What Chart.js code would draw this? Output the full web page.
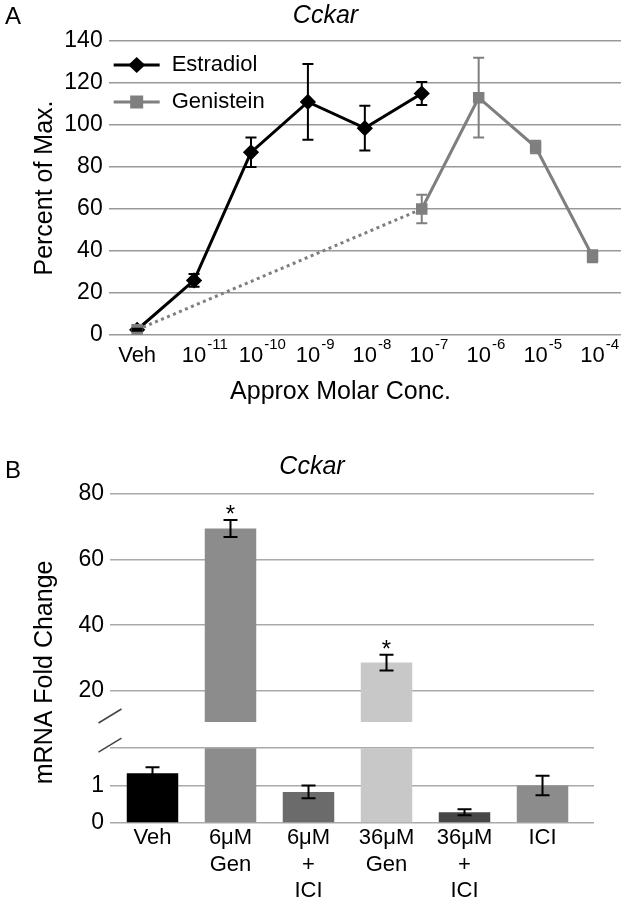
<!DOCTYPE html>
<html><head><meta charset="utf-8">
<script src="https://cdn.jsdelivr.net/npm/chart.js@4/dist/chart.umd.min.js"></script>
<style>
html,body{margin:0;padding:0;background:#fff;overflow:hidden;}
#wrap{position:relative;width:625px;height:901px;overflow:hidden;}
.box{position:absolute;left:0;width:625px;}
.lab{position:absolute;font-family:"Liberation Sans",Arial,sans-serif;font-size:24px;line-height:1;color:#000;}
</style></head><body>
<div id="wrap">
<div class="box" style="top:0;height:425px"><canvas id="chartA"></canvas></div>
<div class="box" style="top:425px;height:490px"><canvas id="chartB"></canvas></div>
<div class="lab" style="left:5px;top:4px">A</div>
<div class="lab" style="left:5px;top:458px">B</div>
</div>
<script>
// ---------- Panel A data ----------
const concBase = ['Veh','10','10','10','10','10','10','10','10'];
const concExp  = ['', '-11', '-10', '-9', '-8', '-7', '-6', '-5', '-4'];
const seriesNames = ['Estradiol','Genistein'];
const estradiolMean = [2.5, 26, 87, 111, 98.5, 115, null, null, null];
const estradiolErr  = [0.5, 3, 7, 18, 10.7, 5.5, null, null, null];
const genisteinMean = [2.5, null, null, null, null, 60, 113, 89.5, 37.5];
const genisteinErr  = [0, null, null, null, null, 6.8, 19, 3, 2.8];
const yTicksA = [0, 20, 40, 60, 80, 100, 120, 140];

// ---------- Panel B data ----------
const treatLabels = [['Veh'], ['6μM','Gen'], ['6μM','+','ICI'], ['36μM','Gen'], ['36μM','+','ICI'], ['ICI']];
const foldMean = [1.33, 69.5, 0.83, 28.6, 0.29, 1.0];
const foldErr  = [0.16, 2.6, 0.17, 2.4, 0.08, 0.26];
const sigMarks = ['', '*', '', '*', '', ''];
const lowTickLabels = [0, 1];
const upperTickLabels = [20, 40, 60, 80];
const barColors = ['#000000', '#8c8c8c', '#6b6b6b', '#c8c8c8', '#474747', '#8c8c8c'];

// axis break settings (panel B)
const lowBreak = 2;
const lowAxisMax = 2.7;
const highAxisMin = 10.5;
const highAxisMax = 80;

const FONT = '"Liberation Sans", Arial, sans-serif';
Chart.defaults.font.family = FONT;
Chart.defaults.color = '#000';

const errMapA = [estradiolErr, genisteinErr];

const errorBarsA = {
  id: 'errorBarsA',
  afterDatasetsDraw(chart) {
    const ctx = chart.ctx, ys = chart.scales.y;
    chart.data.datasets.forEach((ds, di) => {
      const meta = chart.getDatasetMeta(di);
      errMapA[di].forEach((e, i) => {
        const v = ds.data[i];
        if (v == null || !e) return;
        const x = meta.data[i].x;
        const yt = ys.getPixelForValue(v + e), yb = ys.getPixelForValue(v - e);
        ctx.save();
        ctx.strokeStyle = ds.borderColor; ctx.lineWidth = 2;
        ctx.beginPath();
        ctx.moveTo(x, yt); ctx.lineTo(x, yb);
        ctx.moveTo(x - 5.5, yt); ctx.lineTo(x + 5.5, yt);
        ctx.moveTo(x - 5.5, yb); ctx.lineTo(x + 5.5, yb);
        ctx.stroke(); ctx.restore();
      });
    });
  }
};

// x tick labels with superscript exponents
const expTicks = {
  id: 'expTicks',
  afterDraw(chart) {
    const {ctx, chartArea} = chart, xs = chart.scales.x;
    ctx.save(); ctx.fillStyle = '#000'; ctx.textBaseline = 'middle';
    concBase.forEach((b, i) => {
      const x = xs.getPixelForValue(i);
      ctx.font = '22px ' + FONT; ctx.textAlign = 'center';
      ctx.fillText(b, x, chartArea.bottom + 21);
      if (concExp[i]) {
        const w = ctx.measureText(b).width;
        ctx.font = '15px ' + FONT; ctx.textAlign = 'left';
        ctx.fillText(concExp[i], x + w / 2 + 1, chartArea.bottom + 10);
      }
    });
    ctx.restore();
  }
};

const inlineLegend = {
  id: 'inlineLegend',
  afterDraw(chart) {
    const {ctx, chartArea} = chart;
    const styles = ['diamond', 'square'];
    ctx.save();
    ctx.font = '22px ' + FONT;
    ctx.textBaseline = 'middle';
    chart.data.datasets.forEach((ds, i) => {
      const y = chartArea.top + 24 + i * 37;
      const x0 = chartArea.left + 5;
      ctx.strokeStyle = ds.borderColor; ctx.fillStyle = ds.borderColor; ctx.lineWidth = 3;
      ctx.beginPath(); ctx.moveTo(x0, y); ctx.lineTo(x0 + 46, y); ctx.stroke();
      const cx = x0 + 23;
      if (styles[i] === 'diamond') {
        ctx.beginPath(); ctx.moveTo(cx, y - 8); ctx.lineTo(cx + 8.5, y); ctx.lineTo(cx, y + 8); ctx.lineTo(cx - 8.5, y); ctx.closePath(); ctx.fill();
      } else {
        ctx.fillRect(cx - 6.5, y - 6.5, 13, 13);
      }
      ctx.fillStyle = '#000';
      ctx.fillText(ds.label, x0 + 58, y);
    });
    ctx.restore();
  }
};

new Chart(document.getElementById('chartA'), {
  type: 'line',
  data: {
    labels: concBase.map((b, i) => b + concExp[i]),
    datasets: [
      {label: seriesNames[0], data: estradiolMean, borderColor: '#000', backgroundColor: '#000',
       borderWidth: 3, pointStyle: 'rectRot', pointRadius: 6, pointHoverRadius: 6, order: 1},
      {label: seriesNames[1], data: genisteinMean, borderColor: '#7f7f7f', backgroundColor: '#7f7f7f',
       borderWidth: 3, pointStyle: 'rect', pointRadius: 6, pointHoverRadius: 6, spanGaps: true, order: 0,
       segment: {borderDash: c => (c.p0.skip || c.p1.skip) ? [3, 3.5] : undefined}}
    ]
  },
  options: {
    responsive: true, maintainAspectRatio: false, animation: false, devicePixelRatio: 1,
    layout: {autoPadding: false, padding: {left: 30, right: 4, top: 0, bottom: 0}},
    plugins: {
      legend: {display: false}, tooltip: {enabled: false},
      title: {display: true, text: 'Cckar', color: '#000',
              font: {size: 25, style: 'italic', weight: 'normal'}, padding: {top: 1.5, bottom: 9.5}}
    },
    scales: {
      x: {offset: true, grid: {display: false, drawTicks: false}, border: {display: false},
          ticks: {display: false},
          title: {display: true, text: 'Approx Molar Conc.       ', color: '#000', font: {size: 25}, padding: {top: 42.5, bottom: 17.5}}},
      y: {min: 0, max: 140,
          afterBuildTicks: s => { s.ticks = yTicksA.map(v => ({value: v})); },
          ticks: {font: {size: 23}, color: '#000', padding: 6},
          grid: {color: '#999', lineWidth: 1.5, drawTicks: false}, border: {display: false},
          title: {display: true, text: 'Percent of Max.', color: '#000', font: {size: 25}, padding: {top: 0, bottom: -1.7}}}
    }
  },
  plugins: [errorBarsA, inlineLegend, expTicks]
});

// ---------- Panel B ----------
const breakClip = {
  id: 'breakClip',
  beforeDatasetDraw(chart, args) {
    const ds = chart.data.datasets[args.index];
    const a = chart.chartArea, ctx = chart.ctx;
    let top, bottom;
    if (ds.yAxisID === 'yLow') {
      const s = chart.scales.yLow; top = s.getPixelForValue(lowBreak); bottom = s.bottom + 2;
    } else {
      const s = chart.scales.yTop; top = s.top - 2; bottom = s.bottom;
    }
    ctx.save(); ctx.beginPath(); ctx.rect(a.left - 5, top, a.right - a.left + 10, bottom - top); ctx.clip();
  },
  afterDatasetDraw(chart) { chart.ctx.restore(); }
};

const errorBarsB = {
  id: 'errorBarsB',
  afterDatasetsDraw(chart) {
    const ctx = chart.ctx, xs = chart.scales.x;
    ctx.save();
    foldMean.forEach((v, i) => {
      const e = foldErr[i];
      const s = v > lowBreak ? chart.scales.yTop : chart.scales.yLow;
      const x = xs.getPixelForValue(i);
      const yt = s.getPixelForValue(v + e), yb = s.getPixelForValue(v - e);
      ctx.strokeStyle = '#000'; ctx.lineWidth = 2;
      ctx.beginPath();
      ctx.moveTo(x, yt); ctx.lineTo(x, yb);
      ctx.moveTo(x - 7, yt); ctx.lineTo(x + 7, yt);
      ctx.moveTo(x - 7, yb); ctx.lineTo(x + 7, yb);
      ctx.stroke();
      if (sigMarks[i]) {
        ctx.fillStyle = '#000'; ctx.font = '24px ' + FONT;
        ctx.textAlign = 'center'; ctx.textBaseline = 'alphabetic';
        ctx.fillText(sigMarks[i], x, yt + 2);
      }
    });
    ctx.restore();
  }
};

const breakMarks = {
  id: 'breakMarks',
  afterDraw(chart) {
    const {ctx, chartArea} = chart;
    const x = chartArea.left;
    const ys = [chart.scales.yTop.bottom - 6, chart.scales.yLow.getPixelForValue(lowBreak) - 3];
    ctx.save(); ctx.strokeStyle = '#444'; ctx.lineWidth = 1.5;
    ys.forEach(y => { ctx.beginPath(); ctx.moveTo(x - 11.5, y + 7); ctx.lineTo(x + 11.5, y - 7); ctx.stroke(); });
    ctx.restore();
  }
};

new Chart(document.getElementById('chartB'), {
  type: 'bar',
  data: {
    datasets: [
      {label: 'upper', yAxisID: 'yTop', grouped: false, barPercentage: 0.66, categoryPercentage: 1,
       backgroundColor: barColors,
       data: foldMean.map((v, i) => ({x: i, y: v > lowBreak ? v : null}))},
      {label: 'lower', yAxisID: 'yLow', grouped: false, barPercentage: 0.66, categoryPercentage: 1,
       backgroundColor: barColors,
       data: foldMean.map((v, i) => ({x: i, y: v}))}
    ]
  },
  options: {
    responsive: true, maintainAspectRatio: false, animation: false, devicePixelRatio: 1,
    layout: {autoPadding: false, padding: {left: 30, right: 31, top: 0, bottom: 8.8}},
    plugins: {
      legend: {display: false}, tooltip: {enabled: false},
      title: {display: true, text: 'Cckar', color: '#000',
              font: {size: 25, style: 'italic', weight: 'normal'}, padding: {top: 27, bottom: 12}}
    },
    scales: {
      x: {type: 'linear', offset: false, min: -0.545, max: 5.66,
          grid: {display: false, drawTicks: false, offset: false}, border: {display: false},
          afterBuildTicks: s => { s.ticks = treatLabels.map((t, i) => ({value: i})); },
          ticks: {autoSkip: false, maxRotation: 0, font: {size: 22}, color: '#000', padding: 2,
                  callback: v => treatLabels[v] || ''}},
      yTitle: {type: 'linear', position: 'left', weight: 3, grid: {display: false, drawTicks: false}, border: {display: false},
               ticks: {display: false},
               title: {display: true, text: 'mRNA Fold Change    ', color: '#000', font: {size: 25}, padding: {top: 0, bottom: 12.4}}},
      yTop: {type: 'linear', position: 'left', stack: 'fold', stackWeight: 228, weight: 2,
             min: highAxisMin, max: highAxisMax,
             afterBuildTicks: s => { s.ticks = upperTickLabels.map(v => ({value: v})); },
             ticks: {font: {size: 23}, color: '#000', padding: 6},
             grid: {color: '#aaa', lineWidth: 1.5, drawTicks: false}, border: {display: false}},
      yLow: {type: 'linear', position: 'left', stack: 'fold', stackWeight: 101, weight: 1,
             min: 0, max: lowAxisMax,
             afterBuildTicks: s => { s.ticks = [0, 1, lowBreak].map(v => ({value: v})); },
             ticks: {font: {size: 23}, color: '#000', padding: 6,
                     callback: v => lowTickLabels.includes(v) ? String(v) : ''},
             grid: {color: '#aaa', lineWidth: 1.5, drawTicks: false}, border: {display: false}}
    }
  },
  plugins: [breakClip, errorBarsB, breakMarks]
});
</script>
</body></html>
